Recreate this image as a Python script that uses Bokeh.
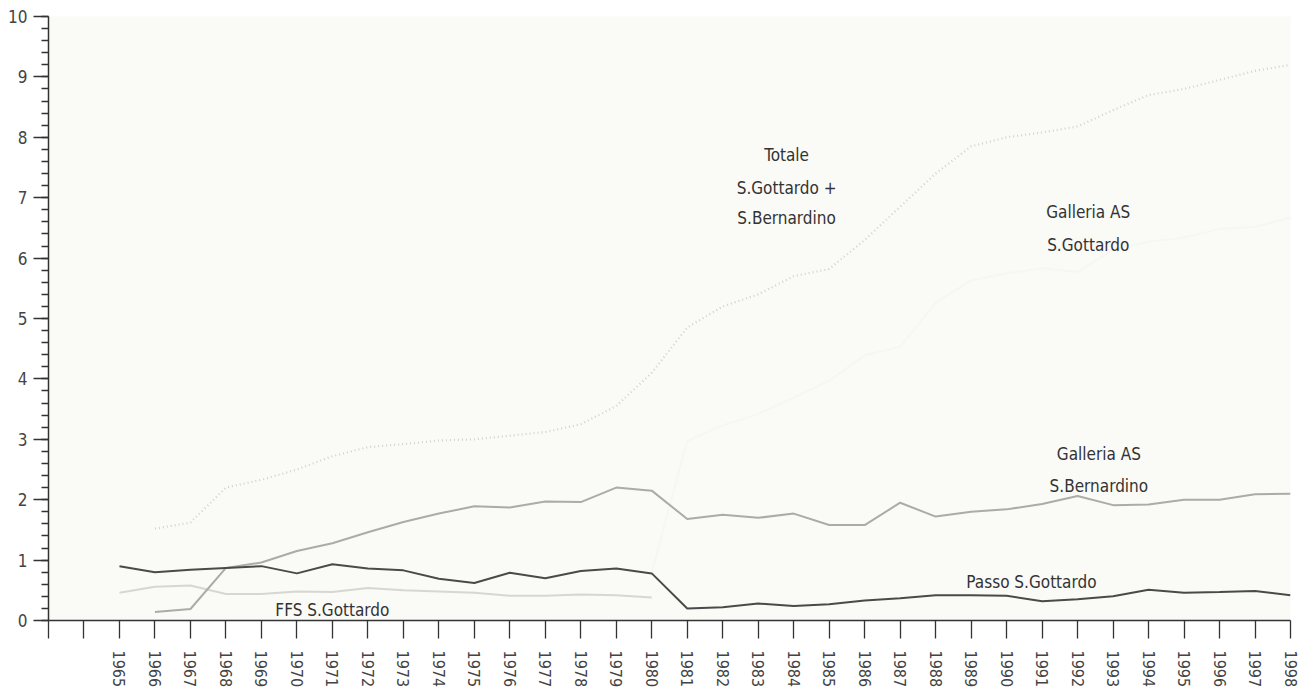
from bokeh.plotting import figure
from bokeh.models import FixedTicker, Range1d, Label
from bokeh.embed import file_html
from bokeh.resources import INLINE

years = list(range(1965, 1999))
years_from_1966 = list(range(1966, 1999))
years_ffs = list(range(1965, 1981))
years_tunnel = list(range(1980, 1999))

passo_gottardo = [0.90, 0.80, 0.84, 0.87, 0.90, 0.78, 0.93, 0.86, 0.83, 0.69,
                  0.62, 0.79, 0.70, 0.82, 0.86, 0.78, 0.20, 0.22, 0.28, 0.24,
                  0.27, 0.33, 0.37, 0.42, 0.42, 0.41, 0.32, 0.35, 0.40, 0.51,
                  0.46, 0.47, 0.49, 0.42]

ffs_gottardo = [0.46, 0.56, 0.58, 0.44, 0.44, 0.48, 0.47, 0.54, 0.50, 0.48,
                0.46, 0.41, 0.41, 0.43, 0.42, 0.38]

galleria_bernardino = [0.14, 0.19, 0.87, 0.96, 1.15, 1.28, 1.46, 1.63, 1.77, 1.89,
                       1.87, 1.97, 1.96, 2.20, 2.15, 1.68, 1.75, 1.70, 1.77, 1.58,
                       1.58, 1.95, 1.72, 1.80, 1.84, 1.93, 2.06, 1.91, 1.92, 2.00,
                       2.00, 2.09, 2.10]

galleria_gottardo = [0.80, 2.97, 3.23, 3.42, 3.69, 3.97, 4.39, 4.53, 5.26, 5.63,
                     5.75, 5.83, 5.77, 6.14, 6.27, 6.34, 6.48, 6.52, 6.67]

totale = [1.52, 1.62, 2.20, 2.33, 2.50, 2.72, 2.87, 2.92, 2.98, 3.00,
          3.06, 3.12, 3.25, 3.55, 4.10, 4.85, 5.20, 5.40, 5.70, 5.82,
          6.30, 6.85, 7.40, 7.85, 8.00, 8.08, 8.18, 8.45, 8.70, 8.80,
          8.95, 9.10, 9.20]

tick_years = list(range(1963, 1999))
y_ticks = list(range(0, 11))

FONT = "DejaVu Sans Condensed"

p = figure(width=1300, height=690, output_backend="svg", toolbar_location=None,
           x_range=Range1d(1963, 1998), y_range=Range1d(0, 10),
           min_border_left=48, min_border_right=10, min_border_top=16, min_border_bottom=10)
p.background_fill_color = "#fafaf6"
p.border_fill_color = "white"
p.outline_line_color = None
p.xgrid.visible = False
p.ygrid.visible = False

# lines
p.line(years_tunnel, galleria_gottardo, line_color="#f6f6f2", line_width=2)
p.line(years_from_1966, totale, line_color="#d2d2ce", line_width=2.2, line_dash="1 3")
p.line(years_ffs, ffs_gottardo, line_color="#d6d6d2", line_width=2)
p.line(years_from_1966, galleria_bernardino, line_color="#ababa8", line_width=2)
p.line(years, passo_gottardo, line_color="#4a4a4a", line_width=2)

# axes
xa = p.xaxis[0]
xa.ticker = FixedTicker(ticks=tick_years)
xa.major_label_overrides = {1963: "", 1964: ""}
xa.major_label_orientation = "vertical"
xa.major_tick_out = 18
xa.major_tick_in = 0
xa.minor_tick_out = 0
xa.minor_tick_in = 0
xa.major_label_standoff = 12
xa.axis_line_color = "#333333"
xa.axis_line_width = 1.5
xa.major_tick_line_color = "#333333"
xa.major_tick_line_width = 1.3
xa.major_label_text_font = FONT
xa.major_label_text_font_size = "16px"
xa.major_label_text_color = "#444444"

ya = p.yaxis[0]
ya.ticker = FixedTicker(ticks=y_ticks, minor_ticks=[i / 5 for i in range(0, 51)])
ya.major_tick_out = 15
ya.major_tick_in = 0
ya.minor_tick_out = 7
ya.minor_tick_in = 0
ya.major_label_standoff = 6
ya.axis_line_color = "#333333"
ya.axis_line_width = 1.5
ya.major_tick_line_color = "#333333"
ya.major_tick_line_width = 1.3
ya.minor_tick_line_color = "#333333"
ya.minor_tick_line_width = 1.3
ya.major_label_text_font = FONT
ya.major_label_text_font_size = "17px"
ya.major_label_text_color = "#444444"

labels = [
    (1983.8, 7.71, "Totale"),
    (1983.8, 7.16, "S.Gottardo +"),
    (1983.8, 6.66, "S.Bernardino"),
    (1992.3, 6.76, "Galleria AS"),
    (1992.3, 6.22, "S.Gottardo"),
    (1992.6, 2.76, "Galleria AS"),
    (1992.6, 2.23, "S.Bernardino"),
    (1990.7, 0.63, "Passo S.Gottardo"),
    (1971.0, 0.18, "FFS S.Gottardo"),
]
for lx, ly, txt in labels:
    p.add_layout(Label(x=lx, y=ly, text=txt, text_font=FONT, text_font_size="17px",
                       text_color="#333333", text_align="center", text_baseline="middle"))

open("out.html", "w").write(file_html(p, INLINE))
